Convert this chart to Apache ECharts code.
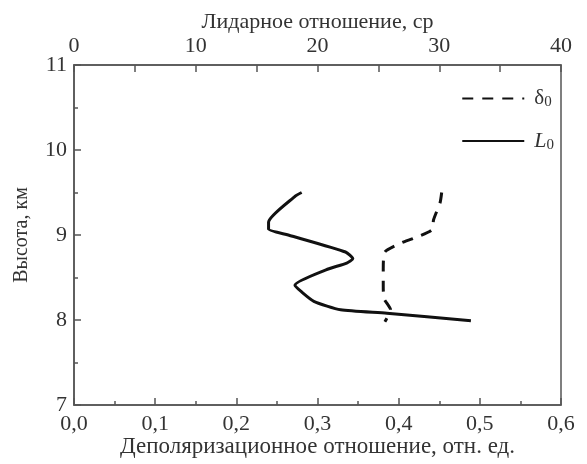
<!DOCTYPE html>
<html>
<head>
<meta charset="utf-8">
<script src="https://cdn.jsdelivr.net/npm/echarts@6/dist/echarts.min.js"></script>
<style>html,body{margin:0;padding:0;background:#fff;}#c{width:587px;height:464px;}</style>
</head>
<body>
<div id="c"></div>
<script>
// Depolarization ratio (bottom axis)
var depolHeight = [9.5, 9.38, 9.18, 9.06, 8.96, 8.91, 8.8, 8.6, 8.4, 8.25, 8.12, 7.98];
var depolValue  = [0.453, 0.451, 0.443, 0.441, 0.418, 0.404, 0.383, 0.381, 0.381, 0.382, 0.39, 0.383];
// Lidar ratio (top axis)
var lidarHeight = [9.5, 9.46, 9.15, 9.07, 9.0, 8.8, 8.72, 8.67, 8.59, 8.41, 8.33, 8.22, 8.12, 8.08, 7.99];
var lidarValue  = [18.7, 18.2, 15.98, 15.98, 17.6, 22.3, 22.9, 22.4, 20.7, 18.15, 18.7, 19.7, 21.9, 25.7, 32.6];
var seriesNames = ['δ0', 'L0'];
var bottomName = 'Деполяризационное отношение, отн. ед.';
var topName = 'Лидарное отношение, ср';
var leftName = 'Высота, км';

var FONT = 'Liberation Serif';
var axisColor = '#555';
var textColor = '#333';

function pairs(xs, ys){ return xs.map(function(v,i){ return [v, ys[i]]; }); }

var chart = echarts.init(document.getElementById('c'), null, {renderer:'canvas'});
chart.setOption({
  backgroundColor: '#fff',
  animation: false,
  grid: {left: 74, right: 26, top: 65, bottom: 59, outerBoundsMode: 'none', containLabel: false,
         show: true, borderColor: axisColor, borderWidth: 1.5},
  legend: {
    orient: 'vertical', right: 28, top: 83, itemGap: 20,
    itemWidth: 62, itemHeight: 14,
    data: seriesNames,
    itemStyle: {opacity: 0},
    formatter: function(n){ return n === 'δ0' ? '{a|δ}{s|0}' : '{i|L}{s|0}'; },
    textStyle: {
      fontFamily: FONT, color: textColor, fontSize: 21, padding: [0, 0, 0, 5],
      rich: {
        a: {fontFamily: FONT, fontSize: 21, color: textColor},
        i: {fontFamily: FONT, fontSize: 22, fontStyle: 'italic', color: textColor},
        s: {fontFamily: FONT, fontSize: 15, color: textColor, verticalAlign: 'bottom', padding: [8,0,0,0]}
      }
    }
  },
  xAxis: [{
    type: 'value', position: 'bottom', min: 0, max: 0.6, interval: 0.1,
    name: bottomName, nameLocation: 'middle', nameGap: 30, nameMoveOverlap: false,
    nameTextStyle: {fontFamily: FONT, fontSize: 23, color: textColor},
    axisLine: {show: true, lineStyle: {color: axisColor, width: 1.5}},
    axisTick: {show: true, inside: true, length: 7, lineStyle: {color: axisColor, width: 1.5}},
    minorTick: {show: true, splitNumber: 2, length: 4, lineStyle: {color: axisColor, width: 1.5}},
    splitLine: {show: false},
    axisLabel: {fontFamily: FONT, fontSize: 22, color: textColor, margin: 8,
      formatter: function(v){ return v.toFixed(1).replace('.', ','); }}
  }, {
    type: 'value', position: 'top', min: 0, max: 40, interval: 10,
    name: topName, nameLocation: 'middle', nameGap: 32, nameMoveOverlap: false,
    nameTextStyle: {fontFamily: FONT, fontSize: 22, color: textColor},
    axisLine: {show: true, lineStyle: {color: axisColor, width: 1.5}},
    axisTick: {show: true, inside: true, length: 7, lineStyle: {color: axisColor, width: 1.5}},
    minorTick: {show: true, splitNumber: 2, length: 7, lineStyle: {color: axisColor, width: 1.5}},
    splitLine: {show: false},
    axisLabel: {fontFamily: FONT, fontSize: 22, color: textColor, margin: 8}
  }],
  yAxis: [{
    type: 'value', min: 7, max: 11, interval: 1,
    name: leftName, nameLocation: 'middle', nameGap: 42, nameRotate: 90, nameMoveOverlap: false,
    nameTextStyle: {fontFamily: FONT, fontSize: 20, color: textColor},
    axisLine: {show: true, lineStyle: {color: axisColor, width: 1.5}},
    axisTick: {show: true, inside: true, length: 7, lineStyle: {color: axisColor, width: 1.5}},
    minorTick: {show: true, splitNumber: 2, length: 4, lineStyle: {color: axisColor, width: 1.5}},
    splitLine: {show: false},
    axisLabel: {fontFamily: FONT, fontSize: 22, color: textColor, margin: 7}
  }],
  series: [{
    name: seriesNames[0], type: 'line', xAxisIndex: 0, yAxisIndex: 0,
    data: pairs(depolValue, depolHeight), symbol: 'none', smooth: 0.2,
    lineStyle: {color: '#111', width: 3, type: [11, 9]},
    itemStyle: {color: '#111'}
  }, {
    name: seriesNames[1], type: 'line', xAxisIndex: 1, yAxisIndex: 0,
    data: pairs(lidarValue, lidarHeight), symbol: 'none', smooth: 0.2,
    lineStyle: {color: '#111', width: 3},
    itemStyle: {color: '#111'}
  }]
});
</script>
</body>
</html>
